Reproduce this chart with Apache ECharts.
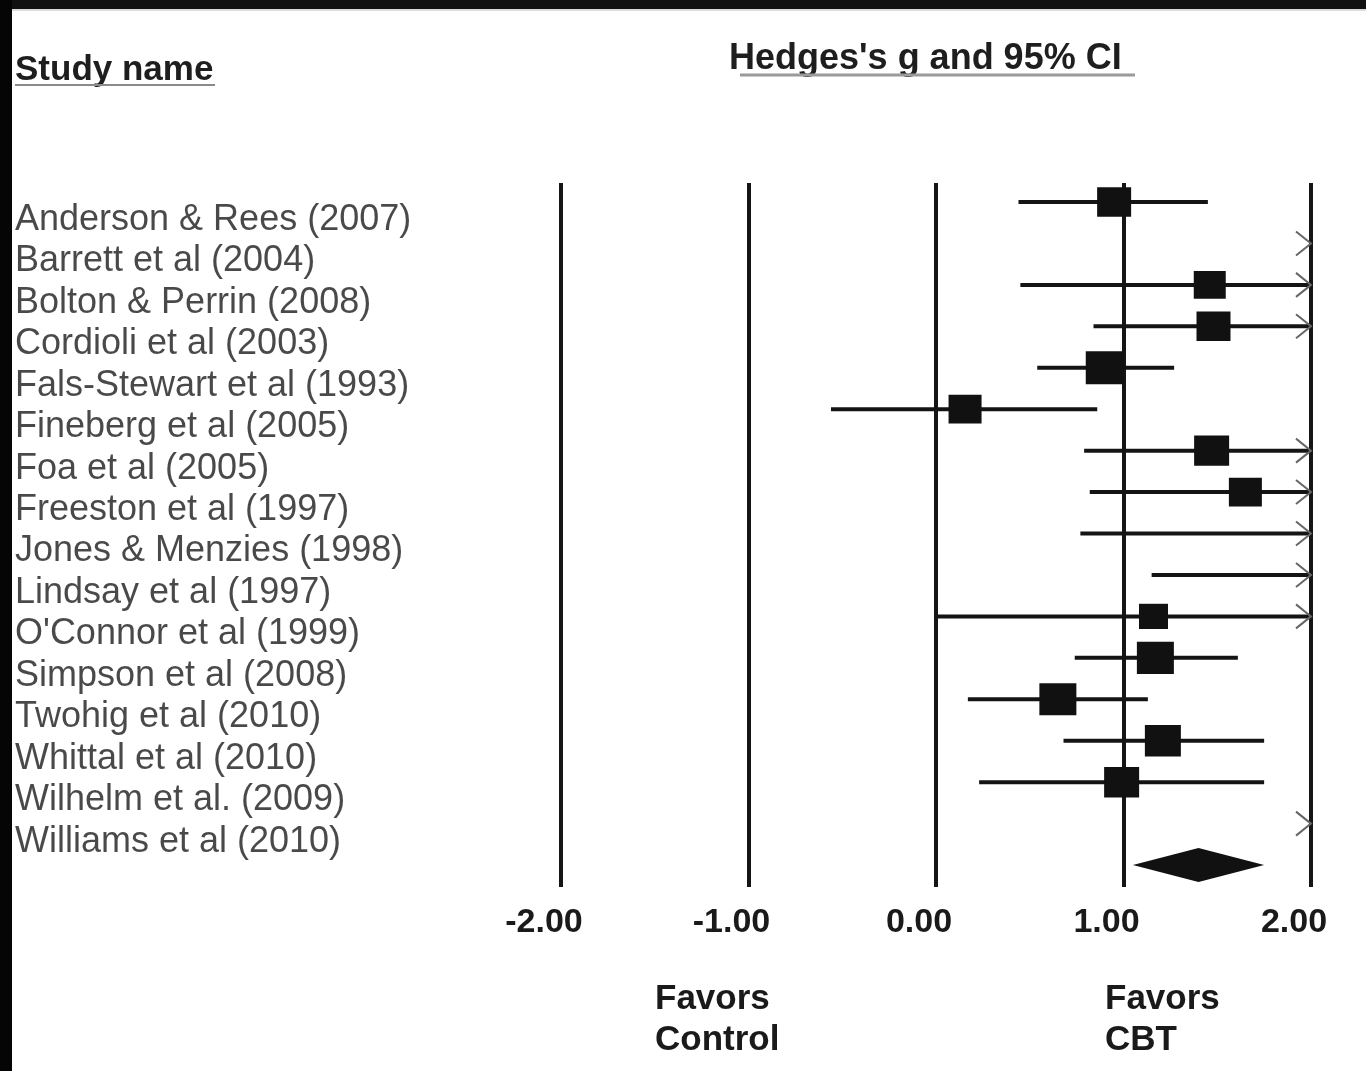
<!DOCTYPE html>
<html>
<head>
<meta charset="utf-8">
<script src="https://cdn.jsdelivr.net/npm/echarts@6/dist/echarts.min.js"></script>
<style>
html,body{margin:0;padding:0;background:#fff;}
#c{width:1366px;height:1071px;}
</style>
</head>
<body>
<div id="c"></div>
<script>
// ---- data ----
const studies = [
  "Anderson & Rees (2007)",
  "Barrett et al (2004)",
  "Bolton & Perrin (2008)",
  "Cordioli et al (2003)",
  "Fals-Stewart et al (1993)",
  "Fineberg et al (2005)",
  "Foa et al (2005)",
  "Freeston et al (1997)",
  "Jones & Menzies (1998)",
  "Lindsay et al (1997)",
  "O'Connor et al (1999)",
  "Simpson et al (2008)",
  "Twohig et al (2010)",
  "Whittal et al (2010)",
  "Wilhelm et al. (2009)",
  "Williams et al (2010)"
];
const hedgesG = [0.95, 2.90, 1.46, 1.48, 0.90, 0.155, 1.47, 1.65, 2.40, 2.60, 1.16, 1.17, 0.65, 1.21, 0.99, 3.00];
const ciLower = [0.44, 2.10, 0.45, 0.84, 0.54, -0.56, 0.79, 0.82, 0.77, 1.15, 0.00, 0.74, 0.17, 0.68, 0.23, 2.20];
const ciUpper = [1.45, 3.70, 2.47, 2.12, 1.27, 0.86, 2.15, 2.48, 4.03, 4.05, 2.32, 1.61, 1.13, 1.75, 1.75, 3.80];
const relWeight = [6.8, 6.0, 6.4, 6.8, 7.6, 6.6, 7.0, 6.6, 6.0, 6.0, 5.8, 7.4, 7.4, 7.2, 7.0, 6.0];
const summaryCI = [1.05, 1.40, 1.75]; // lower, estimate, upper
const xTicks = [-2, -1, 0, 1, 2];
const xTickLabels = ["-2.00", "-1.00", "0.00", "1.00", "2.00"];

// ---- chart ----
const X_MIN = xTicks[0], X_MAX = xTicks[xTicks.length - 1];
const FONT = '"Liberation Sans", Arial, Helvetica, sans-serif';
const chart = echarts.init(document.getElementById('c'), null, {renderer: 'canvas'});

const ciData = studies.map((s, i) => [ciLower[i], ciUpper[i], i]);
const pointData = studies.map((s, i) => [hedgesG[i], i]);
const labelData = studies.map((s, i) => [X_MIN, i]);
const summaryRow = studies.length;

const option = {
  backgroundColor: '#ffffff',
  animation: false,
  grid: {left: 561, right: 55, top: 183, bottom: 184, containLabel: false},
  xAxis: {
    type: 'value', min: X_MIN, max: X_MAX, interval: 1,
    axisLine: {show: false}, axisTick: {show: false},
    splitLine: {show: true, showMinLine: true, showMaxLine: true, lineStyle: {color: '#151515', width: 4}},
    axisLabel: {
      margin: 19,
      formatter: v => xTickLabels[xTicks.indexOf(v)] !== undefined ? xTickLabels[xTicks.indexOf(v)] : v.toFixed(2),
      fontFamily: FONT, fontSize: 34, fontWeight: 'bold', color: '#1a1a1a',
      padding: [0, 34, 0, 0]
    }
  },
  yAxis: {
    type: 'value', inverse: true, min: -0.4585, max: 16.53, show: false
  },
  graphic: [
    {type: 'rect', shape: {x: 0, y: 0, width: 1366, height: 9}, style: {fill: '#111'}, z: 100},
    {type: 'rect', shape: {x: 0, y: 9, width: 1366, height: 2}, style: {fill: '#dcdcdc'}, z: 99},
    {type: 'rect', shape: {x: 0, y: 0, width: 12, height: 1071}, style: {fill: '#050505'}, z: 101},
    {type: 'text', style: {text: 'Study name', x: 15, y: 70, font: 'bold 35px ' + FONT, fill: '#1e1e1e', verticalAlign: 'middle', align: 'left'}},
    {type: 'line', shape: {x1: 15, y1: 85, x2: 215, y2: 85}, style: {stroke: '#8a8a8a', lineWidth: 2}},
    {type: 'text', style: {text: "Hedges's g and 95% CI", x: 729, y: 59, font: 'bold 36px ' + FONT, fill: '#1e1e1e', verticalAlign: 'middle', align: 'left'}},
    {type: 'line', shape: {x1: 740, y1: 75, x2: 1135, y2: 75}, style: {stroke: '#9a9a9a', lineWidth: 3}},
    {type: 'text', style: {text: 'Favors\nControl', x: 655, y: 1020, font: 'bold 35px ' + FONT, lineHeight: 41, fill: '#1a1a1a', verticalAlign: 'middle', align: 'left'}},
    {type: 'text', style: {text: 'Favors\nCBT', x: 1105, y: 1020, font: 'bold 35px ' + FONT, lineHeight: 41, fill: '#1a1a1a', verticalAlign: 'middle', align: 'left'}}
  ],
  series: [
    {
      type: 'custom', name: 'ci', data: ciData, encode: {x: [0, 1], y: 2}, z: 2, silent: true,
      renderItem: function (params, api) {
        const lo = api.value(0), hi = api.value(1), row = api.value(2);
        const children = [];
        if (lo < X_MAX) {
          const a = api.coord([Math.max(lo, X_MIN), row]);
          const b = api.coord([Math.min(hi, X_MAX), row]);
          children.push({type: 'line', shape: {x1: a[0], y1: a[1], x2: b[0], y2: b[1]}, style: {stroke: '#141414', lineWidth: 4}});
        }
        if (hi > X_MAX) {
          const t = api.coord([X_MAX, row]);
          children.push({type: 'polyline', shape: {points: [[t[0] - 15, t[1] - 12], [t[0], t[1]], [t[0] - 15, t[1] + 12]]}, style: {stroke: '#666', lineWidth: 2, fill: null}});
        }
        return {type: 'group', children: children};
      }
    },
    {
      type: 'scatter', name: 'g', data: pointData, symbol: 'rect', clip: true, z: 3, silent: true,
      symbolSize: function (val, params) { const w = relWeight[params.dataIndex] * 5; return [w, w * 0.87]; },
      itemStyle: {color: '#111', opacity: 1}
    },
    {
      type: 'custom', name: 'summary', data: [[summaryCI[0], summaryCI[1], summaryCI[2], summaryRow]], encode: {x: [0, 1, 2], y: 3}, z: 3, silent: true,
      renderItem: function (params, api) {
        const l = api.coord([api.value(0), api.value(3)]);
        const m = api.coord([api.value(1), api.value(3)]);
        const h = api.coord([api.value(2), api.value(3)]);
        const hh = 17;
        return {type: 'polygon', shape: {points: [[l[0], l[1]], [m[0], m[1] - hh], [h[0], h[1]], [m[0], m[1] + hh]]}, style: {fill: '#111'}};
      }
    },
    {
      type: 'scatter', name: 'labels', data: labelData, symbolSize: 0.1, z: 4, silent: true,
      itemStyle: {color: 'rgba(0,0,0,0)'},
      label: {
        show: true, position: 'inside', align: 'left', verticalAlign: 'middle',
        offset: [15 - 561, 18],
        formatter: p => studies[p.dataIndex],
        fontFamily: FONT, fontSize: 36, color: '#1c1c1c'
      }
    }
  ]
};
chart.setOption(option);
</script>
</body>
</html>
